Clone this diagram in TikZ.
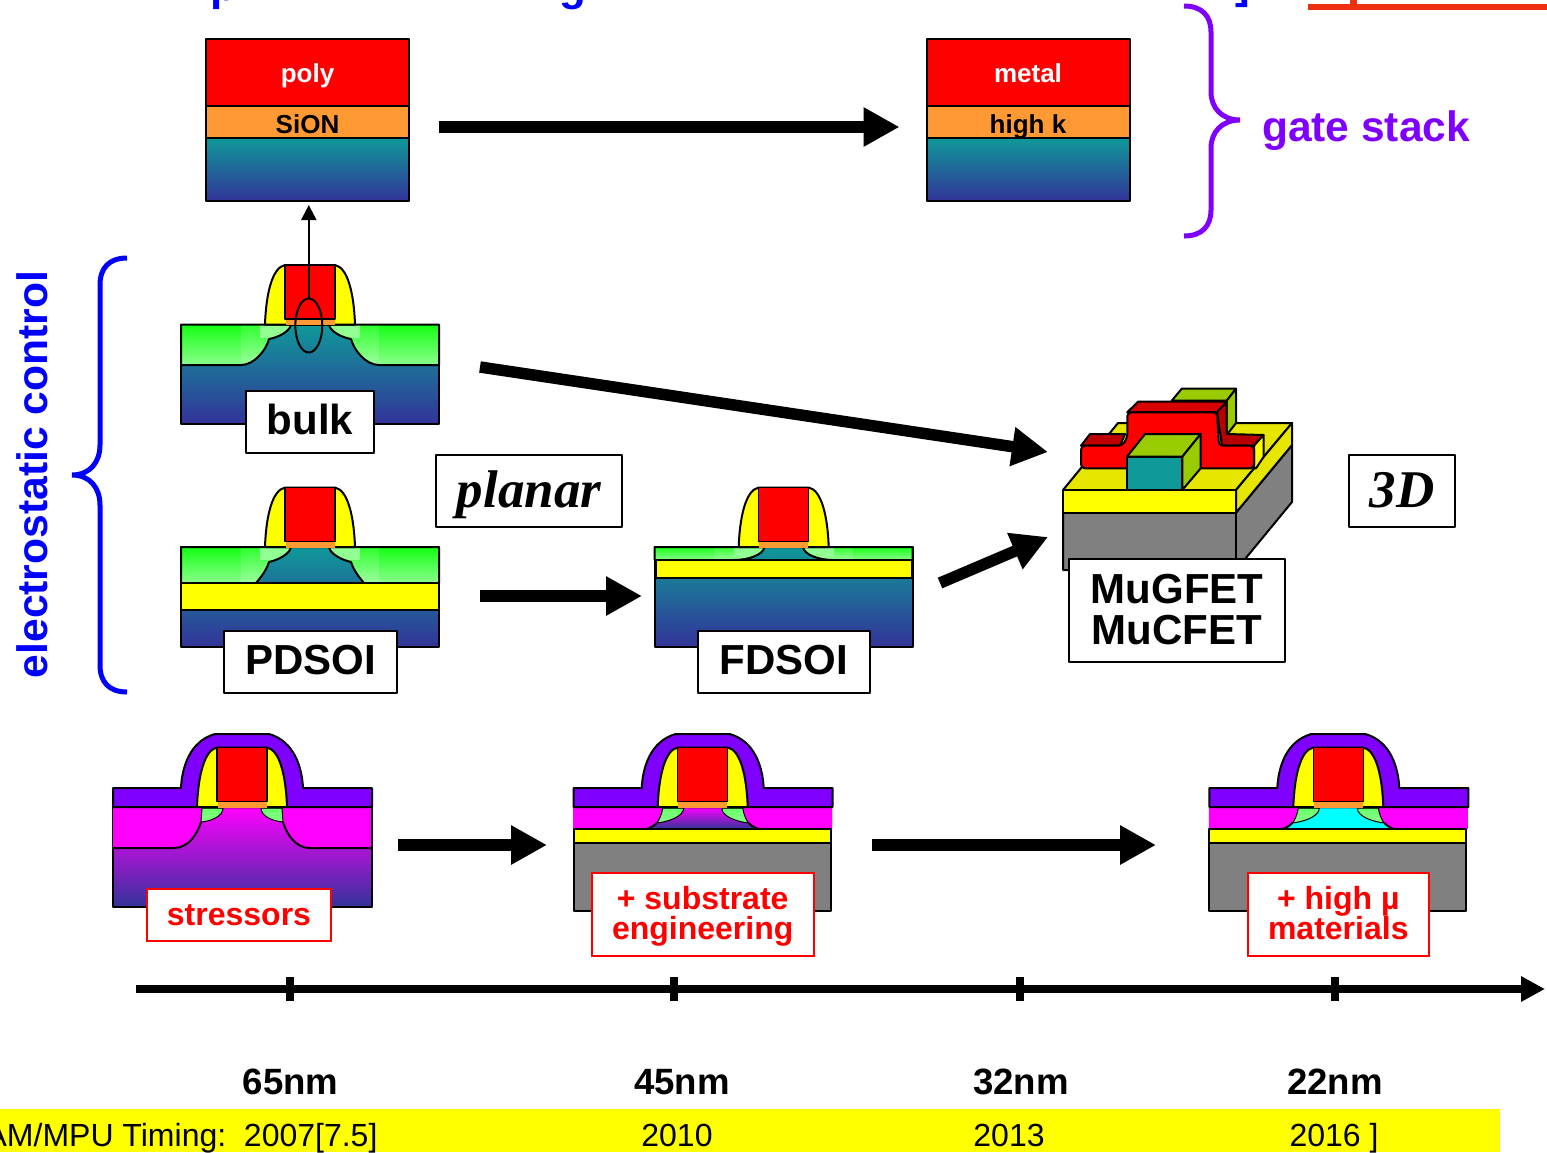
\documentclass[tikz,border=0pt]{standalone}
\usepackage{fontspec}
\setmainfont{Liberation Sans}
\newfontfamily\planarfont{Liberation Serif}
\usetikzlibrary{positioning,arrows.meta,shapes.geometric}
\definecolor{FetRed}{HTML}{FF0000}
\definecolor{FetOrange}{HTML}{FF9933}
\definecolor{FetYellow}{HTML}{FFFF00}
\definecolor{FetDeck}{HTML}{E6E600}
\definecolor{FetTeal}{HTML}{0F9999}
\definecolor{FetNavy}{HTML}{333399}
\definecolor{FetPurple}{HTML}{8000FF}
\definecolor{FetBlue}{HTML}{0000FF}
\definecolor{FetMagenta}{HTML}{FF00FF}
\definecolor{FetCyan}{HTML}{00FFFF}
\definecolor{FetGray}{HTML}{808080}
\definecolor{FetOlive}{HTML}{99CC00}
\definecolor{FetDark}{HTML}{B80000}
\definecolor{WellTop}{HTML}{14FF14}
\definecolor{WellLow}{HTML}{8CFF8C}
\definecolor{TitleRed}{HTML}{EE3010}
\newcommand{\tagtop}{\rule{0pt}{27pt}}
\newcommand{\taglow}{\rule[-8pt]{0pt}{8pt}}
\newcommand{\gatepart}[2]{
  \begin{scope}[shift={(#1,#2)}]
    \draw[fetline,fill=FetYellow] (-45,0) .. controls (-44,-30) and (-38,-57) .. (-25,-59.5)
      -- (25,-59.5) .. controls (38,-57) and (44,-30) .. (45,0) -- cycle;
    \draw[fetline,line width=1.5pt,fill=FetRed] (-25,-59.5) rectangle (25,-5.5);
    \fill[FetOrange] (-24.5,-4.8) rectangle (24.5,0.8);
  \end{scope}}
\newcommand{\wellside}[5]{
  \begin{scope}[shift={(#1,#2)},xscale=#3]
    \begin{scope}
      \clip #4;
      \path[top color=WellTop,bottom color=WellLow] (-129.5,0) rectangle (0,#5);
      \path[top color=WellTop!88!white,bottom color=WellLow!85!white] (-69,0) rectangle (-41,#5);
      \fill[WellLow!95!white] (-50,0) rectangle (-19,13);
    \end{scope}
    \draw[fetline] #4;
  \end{scope}}
\newcommand{\capside}[2]{
  \begin{scope}[shift={(#1,807)},xscale=#2]
    \path[top color=WellLow!70!WellTop,bottom color=WellLow,draw=black,line width=1pt]
      (-40,1) -- (-41,15) .. controls (-30,14) and (-19,9) .. (-19,1) -- cycle;
  \end{scope}}
\newcommand{\purplecap}[1]{
  \draw[fetline,fill=FetPurple] (#1-129,807) -- (#1-129,788) -- (#1-61,788)
    .. controls (#1-60,767) and (#1-52,741) .. (#1-27,734) -- (#1+27,734)
    .. controls (#1+52,741) and (#1+60,767) .. (#1+61,788)
    -- (#1+130,788) -- (#1+130,807) -- cycle;}
\newcommand{\thinside}[2]{
  \begin{scope}[shift={(#1,807)},xscale=#2]
    \path[fill=FetMagenta] (-129.5,1) -- (-40,1) .. controls (-41,8) and (-44,14) .. (-46,16)
      .. controls (-50,20) and (-54,22) .. (-58,22) -- (-129.5,22) -- cycle;
    \draw[fetline] (-46,16) .. controls (-50,20) and (-54,22) .. (-58,22);
    \path[top color=WellLow!70!WellTop,bottom color=WellLow,draw=black,line width=1pt]
      (-40,1) .. controls (-41,8) and (-44,14) .. (-46,16) .. controls (-36,15) and (-19,10) .. (-19,1) -- cycle;
  \end{scope}}
\newcommand{\thinfet}[2]{
  \path[#2] (#1-129.5,807) rectangle (#1+129.5,829);
  \thinside{#1}{1}
  \thinside{#1}{-1}
  \draw[fetline,fill=FetYellow] (#1-129,829) rectangle (#1+128,843);
  \draw[fetline,fill=FetGray] (#1-129,843) rectangle (#1+128,911);
  \purplecap{#1}
  \gatepart{#1}{807}}
\begin{document}
\begin{tikzpicture}[x=1pt,y=-1pt,>=stealth]
  \tikzstyle{fetline}=[draw=black,line width=2pt,line join=round]
  \tikzstyle{stackbox}=[fetline,minimum width=203pt,inner sep=0pt,outer sep=0pt,text depth=0pt,
    font=\fontsize{26}{26}\selectfont\bfseries]
  \tikzstyle{blacktag}=[fetline,fill=white,inner sep=0pt,align=center,
    font=\fontsize{42}{42}\selectfont\bfseries]
  \tikzstyle{redtag}=[draw=FetRed,line width=2pt,fill=white,inner sep=0pt,align=center,text=FetRed,
    font=\fontsize{32}{30}\selectfont\bfseries]
  \tikzstyle{kindtag}=[fetline,line width=1.5pt,fill=white,inner sep=0pt,text height=36pt,text depth=4pt,
    font=\fontsize{53}{53}\planarfont\bfseries\itshape]
  \tikzstyle{bigarrow}=[line width=11.5pt,-{Triangle[length=36pt,width=37pt]}]
  \tikzstyle{nodesize}=[anchor=base,font=\fontsize{36.6}{36.6}\selectfont\bfseries]
  \tikzstyle{yearlabel}=[anchor=base,font=\fontsize{32}{32}\selectfont]
  \tikzstyle{titlebit}=[anchor=base,text=FetBlue,font=\fontsize{44}{44}\selectfont\bfseries]
  \tikzstyle{axistick}=[fill=black,inner sep=0pt,minimum width=8pt,minimum height=24pt]
  \useasboundingbox (0,0) rectangle (1547,1152);
  \clip (0,0) rectangle (1547,1152);

  \node[titlebit] (titleP) at (224,0) {p};
  \node[titlebit] (titleG) at (573,0) {g};
  \node[titlebit] (titleBracket) at (1243,-2) {]};
  \fill[TitleRed] (1308,4) rectangle (1547,10);
  \fill[TitleRed] (1350,0) rectangle (1357,4);

  \node[stackbox,fill=FetRed,text=white,text height=19pt,minimum height=67pt] (polyBox) at (307.5,72.5) {poly};
  \node[stackbox,fill=FetOrange,text height=22pt,minimum height=32pt,below=0pt of polyBox] (sionBox) {SiON};
  \node[stackbox,top color=FetTeal,bottom color=FetNavy,minimum height=63pt,below=0pt of sionBox] (polySub) {};
  \node[stackbox,fill=FetRed,text=white,text height=19pt,minimum height=67pt] (metalBox) at (1028,72.5) {metal};
  \node[stackbox,fill=FetOrange,text height=22pt,minimum height=32pt,below=0pt of metalBox] (highkBox) {high k};
  \node[stackbox,top color=FetTeal,bottom color=FetNavy,minimum height=63pt,below=0pt of highkBox] (metalSub) {};
  \draw[bigarrow] ([xshift=29.5pt,yshift=-5pt]sionBox.east) -- ([xshift=-27pt,yshift=-5pt]highkBox.west);

  \draw[FetPurple,line width=5pt] (1184,6) .. controls (1202,6) and (1211,16) .. (1211,32) -- (1211,92)
    .. controls (1211,108) and (1222,120) .. (1240,120) .. controls (1222,120) and (1211,132) .. (1211,148)
    -- (1211,210) .. controls (1211,226) and (1202,236) .. (1184,236);
  \node[anchor=base,text=FetPurple,font=\fontsize{42.5}{42.5}\selectfont\bfseries] (gateLabel) at (1366,141) {gate stack};

  \draw[FetBlue,line width=5pt] (127,258) .. controls (109,258) and (100,268) .. (100,285) -- (100,445)
    .. controls (100,462) and (90,475) .. (72,475) .. controls (90,475) and (100,488) .. (100,505)
    -- (100,665) .. controls (100,682) and (109,692) .. (127,692);
  \node[anchor=base,rotate=90,text=FetBlue,font=\fontsize{42.6}{42.6}\selectfont\bfseries] (electroLabel) at (47,474.5) {electrostatic control};

  \path[fetline,top color=FetTeal,bottom color=FetNavy] (181,324.5) rectangle (439,424);
  \wellside{310}{324.5}{1}{(-129,0) -- (-19,0) .. controls (-20,7) and (-32,13) .. (-41,14.5) .. controls (-44,26) and (-56,40.5) .. (-69,40.5) -- (-129,40.5) -- cycle}{40.5}
  \wellside{310}{324.5}{-1}{(-129,0) -- (-19,0) .. controls (-20,7) and (-32,13) .. (-41,14.5) .. controls (-44,26) and (-56,40.5) .. (-69,40.5) -- (-129,40.5) -- cycle}{40.5}
  \gatepart{310}{324.5}
  \node[ellipse,fetline,inner sep=0pt,minimum width=27pt,minimum height=54pt] (channel) at (308.8,325.5) {};
  \coordinate (gateTip) at (308.8,205);
  \draw[->,line width=2pt,>={Triangle[length=15pt,width=15pt]}] (channel.north) -- (gateTip);
  \node[blacktag,text depth=4pt,minimum width=128pt,minimum height=62pt] (bulkTag) at (310,421.5) {bulk};

  \path[fetline,top color=FetTeal,bottom color=FetNavy] (181,547) rectangle (439,646.5);
  \wellside{310}{547}{1}{(-129,0) -- (-19,0) .. controls (-20,7) and (-32,13) .. (-41,15) .. controls (-44,24) and (-49,30) .. (-54,36) -- (-129,36) -- cycle}{36}
  \wellside{310}{547}{-1}{(-129,0) -- (-19,0) .. controls (-20,7) and (-32,13) .. (-41,15) .. controls (-44,24) and (-49,30) .. (-54,36) -- (-129,36) -- cycle}{36}
  \draw[fetline,fill=FetYellow] (181,583) rectangle (439,610);
  \gatepart{310}{547}
  \node[blacktag,text depth=4pt,minimum width=173pt,minimum height=62pt] (pdsoiTag) at (310.5,662) {PDSOI};

  \path[fetline,top color=FetTeal,bottom color=FetNavy] (654.5,547) rectangle (913,646.5);
  \wellside{783.7}{547}{1}{(-129,0) -- (-19,0) .. controls (-21,8) and (-35,13) .. (-50,13) -- (-129,13) -- cycle}{13}
  \wellside{783.7}{547}{-1}{(-129,0) -- (-19,0) .. controls (-21,8) and (-35,13) .. (-50,13) -- (-129,13) -- cycle}{13}
  \draw[fetline,fill=FetYellow] (655.5,560) rectangle (912,578);
  \gatepart{783.7}{547}
  \node[blacktag,text depth=4pt,minimum width=172pt,minimum height=62pt] (fdsoiTag) at (784,662) {FDSOI};

  \coordinate (bulkOut) at (480,367);
  \coordinate (pdsoiOut) at (480,596);
  \coordinate (fdsoiIn) at (642,596);
  \coordinate (fdsoiOut) at (940,583);
  \coordinate (muIn) at (1048,537);
  \coordinate (muTop) at (1048,452);
  \draw[bigarrow] (bulkOut) -- (muTop);
  \draw[bigarrow] (pdsoiOut) -- (fdsoiIn);
  \draw[bigarrow] (fdsoiOut) -- (muIn);
  \node[kindtag,minimum width=186pt,minimum height=72pt] (planarTag) at (529,491) {planar};
  \node[kindtag,minimum width=106pt,minimum height=72pt] (threeDTag) at (1402,491) {3D};

  \draw[fetline,fill=FetGray] (1063,512.7) -- (1236,512.7) -- (1292,445) -- (1292,502) -- (1236,570) -- (1063,570) -- cycle;
  \draw[fetline] (1236,512.7) -- (1236,570);
  \draw[fetline,fill=FetDeck] (1063,490) -- (1236,490) -- (1292,423) -- (1118,423) -- cycle;
  \draw[fetline,fill=FetDeck] (1236,490) -- (1292,423) -- (1292,445) -- (1236,512.7) -- cycle;
  \draw[fetline,fill=FetYellow] (1063,490) rectangle (1236,512.7);
  \draw[fetline,fill=FetOlive] (1171.7,400.7) -- (1181.7,388.7) -- (1236,388.7) -- (1226.7,400.7) -- cycle;
  \draw[fetline,fill=FetOlive] (1226.7,400.7) -- (1236,388.7) -- (1236,423) -- (1226.7,435) -- cycle;
  \draw[fetline,fill=FetDark] (1217,412) -- (1226.7,401.7) -- (1226.7,434) -- (1263.5,435) -- (1254,445.7) -- (1222,445.7) -- cycle;
  \draw[fetline,fill=FetYellow] (1254,445.7) -- (1263.5,435) -- (1263.5,457) -- (1256,468.3) -- (1254,468.3) -- cycle;
  \draw[fetline,fill=FetRed!85!black] (1127.3,412.3) -- (1138,401.7) -- (1226.7,401.7) -- (1217,412) -- cycle;
  \draw[fetline,fill=FetRed!75!black] (1081,445.7) -- (1090,434) -- (1125,434) -- (1120,445.7) -- cycle;
  \draw[fetline,fill=FetRed,rounded corners=4pt] (1081,468.3) -- (1081,445.7) -- (1122,445.7) -- (1127.3,438) -- (1127.3,412.3)
    -- (1217,412.3) -- (1219,445.7) -- (1254,445.7) -- (1254,468.3) -- cycle;
  \draw[fetline,fill=FetOlive] (1127,456.7) -- (1145,434) -- (1200.7,434) -- (1182.3,456.7) -- cycle;
  \draw[fetline,fill=FetOlive] (1182.3,456.7) -- (1200.7,434) -- (1200.7,468.3) -- (1182.3,490) -- cycle;
  \draw[fetline,fill=FetTeal] (1127,456.7) rectangle (1182.3,490);
  \node[blacktag,minimum width=216pt,minimum height=103pt] (muTag) at (1177,610.5) {MuGFET\\[-1pt]MuCFET\rule[-3pt]{0pt}{3pt}};

  \path[fetline,top color=FetMagenta,bottom color=FetNavy] (113,807) rectangle (372,907);
  \begin{scope}[shift={(242,807)}]
    \path[fill=FetMagenta] (-129,1) -- (-40,1) -- (-41,15) .. controls (-45,28) and (-54,41) .. (-68,41) -- (-129,41) -- cycle;
    \draw[fetline] (-41,15) .. controls (-45,28) and (-54,41) .. (-68,41) -- (-129,41);
    \path[fill=FetMagenta] (129,1) -- (40,1) -- (41,15) .. controls (45,28) and (54,41) .. (68,41) -- (129,41) -- cycle;
    \draw[fetline] (41,15) .. controls (45,28) and (54,41) .. (68,41) -- (129,41);
  \end{scope}
  \capside{242}{1}
  \capside{242}{-1}
  \purplecap{242}
  \gatepart{242}{807}
  \node[redtag,minimum width=184pt,minimum height=52pt] (stressTag) at (239,915) {stressors};

  \thinfet{702.7}{top color=FetMagenta,bottom color=FetNavy}
  \node[redtag,minimum width=222pt,minimum height=83pt] (substrateTag) at (702.7,914.5) {\tagtop+ substrate\\engineering\taglow};
  \thinfet{1338.3}{fill=FetCyan}
  \node[redtag,minimum width=181pt,minimum height=83pt] (highmuTag) at (1338.3,914.5) {\tagtop+ high µ\\materials\taglow};

  \coordinate (stressOut) at (398,845);
  \coordinate (substrateIn) at (547,845);
  \coordinate (substrateOut) at (872,845);
  \coordinate (highmuIn) at (1156,845);
  \draw[bigarrow] (stressOut) -- (substrateIn);
  \draw[bigarrow] (substrateOut) -- (highmuIn);

  \coordinate (axisStart) at (136,989);
  \coordinate (axisEnd) at (1545,989);
  \draw[line width=8pt,-{Triangle[length=24pt,width=24pt]}] (axisStart) -- (axisEnd);
  \node[axistick] (tick65) at (290,989) {};
  \node[axistick] (tick45) at (674,989) {};
  \node[axistick] (tick32) at (1020,989) {};
  \node[axistick] (tick22) at (1335,989) {};

  \node[nodesize] (size65) at (290.5,1094.5) {65nm};
  \node[nodesize] (size45) at (682,1094.5) {45nm};
  \node[nodesize] (size32) at (1021,1094.5) {32nm};
  \node[nodesize] (size22) at (1335,1094.5) {22nm};
  \fill[FetYellow] (0,1109) rectangle (1500,1152);
  \node[yearlabel,anchor=base east] (year65) at (381,1146) {AM/MPU Timing:\ \ 2007[7.5]};
  \node[yearlabel] (year45) at (677,1146) {2010};
  \node[yearlabel] (year32) at (1009,1146) {2013};
  \node[yearlabel] (year22) at (1334,1146) {2016 ]};
\end{tikzpicture}
\end{document}
